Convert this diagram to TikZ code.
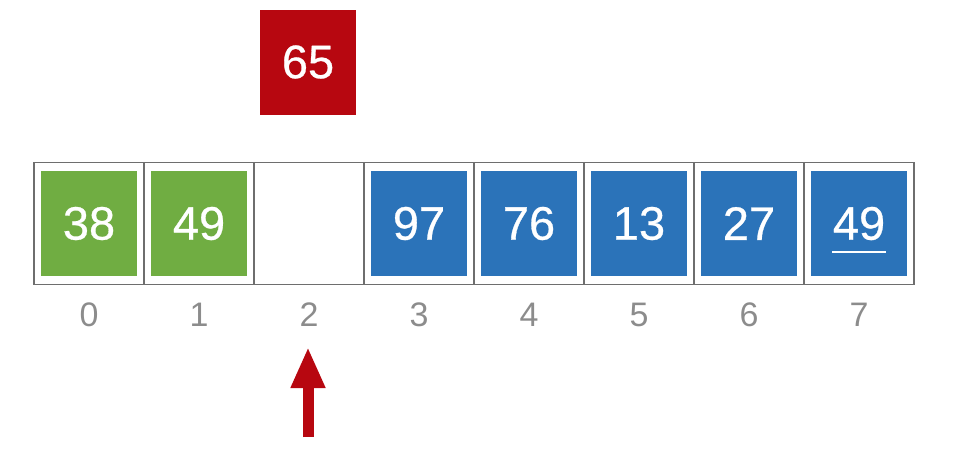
\documentclass[tikz,border=0pt]{standalone}
\usepackage{fontspec}
\setmainfont{Liberation Sans}
\usetikzlibrary{arrows.meta}
\definecolor{cgreen}{RGB}{112,173,66}
\definecolor{cblue}{RGB}{43,115,185}
\definecolor{cred}{RGB}{183,7,16}
\definecolor{cframe}{RGB}{110,110,110}
\definecolor{cidx}{RGB}{140,140,140}
\newcommand{\valtext}[1]{\raisebox{-2.5pt}{#1}}
\tikzset{
  cell/.style={draw=cframe, line width=1.2pt, minimum width=110pt, minimum height=122pt, inner sep=0pt},
  valbox/.style={minimum width=96pt, minimum height=105pt, inner sep=0pt, text=white,
    font=\fontsize{47}{47}\selectfont\addfontfeature{FakeBold=0.6}},
  greenbox/.style={valbox, fill=cgreen},
  bluebox/.style={valbox, fill=cblue},
  redbox/.style={valbox, fill=cred},
  idx/.style={text=cidx, font=\fontsize{34}{34}\selectfont, inner sep=0pt},
  ptr/.style={draw=cred, line width=11pt, -{Triangle[width=32pt,length=41pt]}}
}
\begin{document}
\begin{tikzpicture}[x=1pt,y=-1pt]
\useasboundingbox (0,0) rectangle (957,459);
\foreach \i in {0,...,7} {
  \node[cell] (c\i) at (89+110*\i,223.5) {};
  \node[idx] (i\i) at (89+110*\i,314.5) {\i};
}
\node[greenbox] (b0) at (89,223.5) {\valtext{38}};
\node[greenbox] (b1) at (199,223.5) {\valtext{49}};
\node[bluebox] (b3) at (419,223.5) {\valtext{97}};
\node[bluebox] (b4) at (529,223.5) {\valtext{76}};
\node[bluebox] (b5) at (639,223.5) {\valtext{13}};
\node[bluebox] (b6) at (749,223.5) {\valtext{27}};
\node[bluebox] (b7) at (859,223.5) {\valtext{49}};
\draw[white, line width=2pt] ([shift={(-27,28.5)}]b7.center) -- ([shift={(27,28.5)}]b7.center);
\node[redbox] (key) at (308,62) {65};
\coordinate (tail) at (308,437);
\coordinate (tip) at (308,347);
\draw[ptr] (tail) -- (tip);
\end{tikzpicture}
\end{document}
